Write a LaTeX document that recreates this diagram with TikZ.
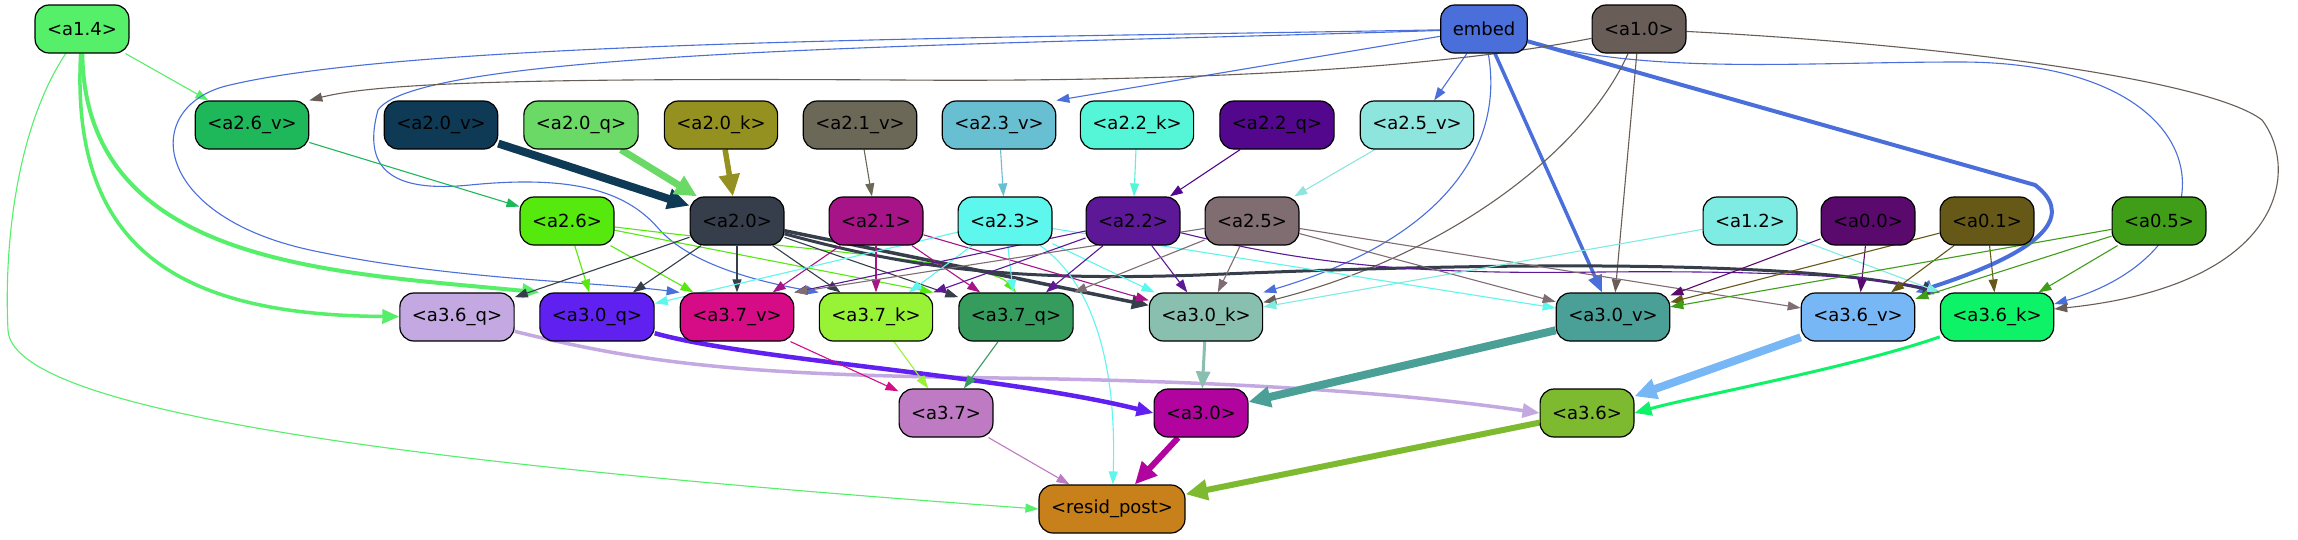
\documentclass[tikz,border=0pt]{standalone}
\usepackage{fontspec}
\setmainfont{DejaVu Sans}
\usetikzlibrary{arrows.meta}
\pgfdeclarelayer{back}
\pgfdeclarelayer{bg}
\pgfsetlayers{back,bg,main}
\definecolor{c14}{HTML}{55EF6A}
\definecolor{cemb}{HTML}{4A6FDB}
\definecolor{c10}{HTML}{685E57}
\definecolor{c26v}{HTML}{1EB85A}
\definecolor{c20v}{HTML}{0E3A55}
\definecolor{c20q}{HTML}{6BD965}
\definecolor{c20k}{HTML}{959121}
\definecolor{c21v}{HTML}{6C6858}
\definecolor{c23v}{HTML}{69BFD2}
\definecolor{c22k}{HTML}{55F5D8}
\definecolor{c22q}{HTML}{52078C}
\definecolor{c25v}{HTML}{8DE5DE}
\definecolor{c26}{HTML}{55E90E}
\definecolor{c20}{HTML}{363E4C}
\definecolor{c21}{HTML}{A61488}
\definecolor{c23}{HTML}{5DF7EE}
\definecolor{c22}{HTML}{5C1896}
\definecolor{c25}{HTML}{7F6D72}
\definecolor{c12}{HTML}{7EECE3}
\definecolor{c00}{HTML}{5A0A6C}
\definecolor{c01}{HTML}{665817}
\definecolor{c05}{HTML}{3F9D17}
\definecolor{c36q}{HTML}{C4A8E2}
\definecolor{c30q}{HTML}{5F20F0}
\definecolor{c37v}{HTML}{D50C86}
\definecolor{c37k}{HTML}{98F235}
\definecolor{c37q}{HTML}{359C5E}
\definecolor{c30k}{HTML}{88BFAE}
\definecolor{c30v}{HTML}{4A9F96}
\definecolor{c36v}{HTML}{77B7F5}
\definecolor{c36k}{HTML}{0DF266}
\definecolor{c37}{HTML}{BF7AC4}
\definecolor{c30}{HTML}{B1049E}
\definecolor{c36}{HTML}{7EBA30}
\definecolor{cres}{HTML}{C8811A}
\tikzset{
  box/.style={draw=black, line width=1.2pt, rounded corners=14pt, minimum height=48pt,
    inner xsep=12pt, inner ysep=0pt, font=\fontsize{18}{21}\selectfont, text=black},
  ed/.style={line width=1.1pt, -{Triangle[length=13pt,width=9pt]}},
  tipmid/.style={-{Triangle[length=17pt,width=14pt]}},
  tipbig/.style={-{Triangle[length=22pt,width=20pt]}}
}
\begin{document}
\begin{tikzpicture}[x=1pt,y=-1pt]
\begin{pgfonlayer}{back}
\fill[white] (0,0) rectangle (2298,539);
\end{pgfonlayer}
\useasboundingbox (0,0) rectangle (2298,539);
% row 1
\node[box, fill=c14] (a14) at (82,29) {<a1.4>};
\node[box, fill=cemb] (emb) at (1484,29) {embed};
\node[box, fill=c10] (a10) at (1639,29) {<a1.0>};
% row 2
\node[box, fill=c26v] (a26v) at (252,125) {<a2.6\_v>};
\node[box, fill=c20v] (a20v) at (441,125) {<a2.0\_v>};
\node[box, fill=c20q] (a20q) at (581,125) {<a2.0\_q>};
\node[box, fill=c20k] (a20k) at (721,125) {<a2.0\_k>};
\node[box, fill=c21v] (a21v) at (860,125) {<a2.1\_v>};
\node[box, fill=c23v] (a23v) at (999,125) {<a2.3\_v>};
\node[box, fill=c22k] (a22k) at (1137,125) {<a2.2\_k>};
\node[box, fill=c22q] (a22q) at (1277,125) {<a2.2\_q>};
\node[box, fill=c25v] (a25v) at (1417,125) {<a2.5\_v>};
% row 3
\node[box, fill=c26] (a26) at (567,221) {<a2.6>};
\node[box, fill=c20] (a20) at (737,221) {<a2.0>};
\node[box, fill=c21] (a21) at (876,221) {<a2.1>};
\node[box, fill=c23] (a23) at (1005,221) {<a2.3>};
\node[box, fill=c22] (a22) at (1133,221) {<a2.2>};
\node[box, fill=c25] (a25) at (1252,221) {<a2.5>};
\node[box, fill=c12] (a12) at (1750,221) {<a1.2>};
\node[box, fill=c00] (a00) at (1868,221) {<a0.0>};
\node[box, fill=c01] (a01) at (1987,221) {<a0.1>};
\node[box, fill=c05] (a05) at (2159,221) {<a0.5>};
% row 4
\node[box, fill=c36q] (a36q) at (457,317) {<a3.6\_q>};
\node[box, fill=c30q] (a30q) at (597,317) {<a3.0\_q>};
\node[box, fill=c37v] (a37v) at (737,317) {<a3.7\_v>};
\node[box, fill=c37k] (a37k) at (876,317) {<a3.7\_k>};
\node[box, fill=c37q] (a37q) at (1016,317) {<a3.7\_q>};
\node[box, fill=c30k] (a30k) at (1206,317) {<a3.0\_k>};
\node[box, fill=c30v] (a30v) at (1613,317) {<a3.0\_v>};
\node[box, fill=c36v] (a36v) at (1858,317) {<a3.6\_v>};
\node[box, fill=c36k] (a36k) at (1997,317) {<a3.6\_k>};
% row 5
\node[box, fill=c37] (a37) at (946,413) {<a3.7>};
\node[box, fill=c30] (a30) at (1201,413) {<a3.0>};
\node[box, fill=c36] (a36) at (1587,413) {<a3.6>};
% row 6
\node[box, fill=cres] (res) at (1112,509) {<resid\_post>};

\begin{pgfonlayer}{bg}
% a1.4
\draw[ed, c14] (a14) -- (a26v);
\draw[ed, c14, line width=3.5pt, tipmid] (a14) .. controls (70,250) and (180,315) .. (a36q);
\draw[ed, c14, line width=4pt, tipmid] (a14) .. controls (85,265) and (330,272) .. (a30q.north west);
\draw[ed, c14] (a14) .. controls (15,130) and (4,250) .. (8,330) .. controls (12,420) and (500,470) .. (res.west);
% embed
\draw[ed, cemb] (emb) -- (a23v.north east);
\draw[ed, cemb] (emb) -- (a25v);
\draw[ed, cemb, line width=3.5pt, tipmid] (emb) -- (a30v);
\draw[ed, cemb, line width=4pt, tipmid] (emb) -- (2035,185) .. controls (2068,210) and (2062,245) .. (a36v.north east);
\draw[ed, cemb] (emb) .. controls (1650,75) and (1800,62) .. (1960,62) .. controls (2230,62) and (2240,250) .. ([yshift=13pt]a36k.east);
\draw[ed, cemb] (emb) .. controls (1505,150) and (1440,240) .. (a30k.north east);
\draw[ed, cemb] (emb) .. controls (1000,38) and (420,40) .. (230,85) .. controls (140,105) and (150,215) .. (310,250) .. controls (450,280) and (600,282) .. (a37v.north west);
\draw[ed, cemb] (emb) .. controls (1000,45) and (420,48) .. (378,110) .. controls (360,175) and (400,192) .. (470,185) .. controls (570,175) and (625,190) .. (658,228) .. controls (690,265) and (760,282) .. (a37k.north west);
% a1.0
\draw[ed, c10] (a10) .. controls (1420,72) and (1150,82) .. (900,80) .. controls (550,78) and (380,82) .. (a26v.north east);
\draw[ed, c10] (a10) .. controls (1585,150) and (1450,255) .. ([yshift=-10pt]a30k.north east);
\draw[ed, c10] (a10) -- (a30v);
\draw[ed, c10] (a10) .. controls (1950,45) and (2210,80) .. (2262,120) .. controls (2300,170) and (2285,285) .. ([yshift=8pt]a36k.east);
% into a2.x
\draw[ed, c20v, line width=8pt, tipbig] (a20v) -- (a20);
\draw[ed, c20q, line width=7pt, tipbig] (a20q) -- (a20);
\draw[ed, c20k, line width=5.5pt, tipbig] (a20k) -- (a20);
\draw[ed, c21v] (a21v) -- (a21);
\draw[ed, c23v] (a23v) -- (a23);
\draw[ed, c22k] (a22k) -- (a22);
\draw[ed, c22q] (a22q) -- (a22);
\draw[ed, c25v] (a25v) -- (a25);
\draw[ed, c26v] (a26v) -- (a26);
% a2.6
\draw[ed, c26] (a26) -- (a30q);
\draw[ed, c26] (a26) -- (a37v);
\draw[ed, c26] (a26) -- (a37k.north east);
\draw[ed, c26] (a26) .. controls (800,250) and (990,262) .. (a37q.north);
% a2.0
\draw[ed, c20] (a20) -- (a36q);
\draw[ed, c20] (a20) -- (a30q);
\draw[ed, c20] (a20) -- (a37v);
\draw[ed, c20] (a20) -- (a37k);
\draw[ed, c20] (a20) -- (a37q);
\draw[ed, c20, line width=3.5pt, tipmid] (a20) -- (a30k);
\draw[ed, c20, line width=3pt, tipmid] (a20) .. controls (900,265) and (1000,282) .. (1200,275) .. controls (1500,262) and (1800,260) .. (a36k.north west);
% a2.1
\draw[ed, c21] (a21) -- (a37v);
\draw[ed, c21] (a21) -- (a37k);
\draw[ed, c21] (a21) -- (a37q);
\draw[ed, c21] (a21) -- (a30k);
% a2.3
\draw[ed, c23] (a23) -- (a30q);
\draw[ed, c23] (a23) -- (a37k);
\draw[ed, c23] (a23) -- (a37q);
\draw[ed, c23] (a23) -- (a30k);
\draw[ed, c23] (a23) -- (a30v);
\draw[ed, c23] (a23) .. controls (1075,270) and (1118,330) .. (res);
% a2.2
\draw[ed, c22] (a22) -- (a37v.north east);
\draw[ed, c22] (a22) -- (a37k.north east);
\draw[ed, c22] (a22) -- (a37q);
\draw[ed, c22] (a22) -- (a30k);
\draw[ed, c22] (a22) .. controls (1300,262) and (1400,275) .. (1600,272) .. controls (1800,270) and (1900,280) .. (a36k.north west);
% a2.5
\draw[ed, c25] (a25) -- (a37v.north east);
\draw[ed, c25] (a25) -- (a37q.north east);
\draw[ed, c25] (a25) -- (a30k);
\draw[ed, c25] (a25) -- (a30v);
\draw[ed, c25] (a25) -- (a36v);
% a1.2, a0.x
\draw[ed, c12] (a12) -- (a30k);
\draw[ed, c12] (a12) -- (a36k.north west);
\draw[ed, c00] (a00) -- (a30v);
\draw[ed, c00] (a00) -- (a36v);
\draw[ed, c01] (a01) -- (a30v);
\draw[ed, c01] (a01) -- (a36v);
\draw[ed, c01] (a01) -- (a36k);
\draw[ed, c05] (a05) -- (a30v);
\draw[ed, c05] (a05) -- (a36v);
\draw[ed, c05] (a05) -- (a36k);
% row 4 -> row 5
\draw[ed, c36q, line width=3.5pt, tipmid] (a36q) .. controls (650,365) and (750,375) .. (1000,378) .. controls (1300,382) and (1450,400) .. (a36.west);
\draw[ed, c30q, line width=4.5pt, tipmid] (a30q) .. controls (750,360) and (1000,375) .. (a30.west);
\draw[ed, c37v] (a37v) -- (a37);
\draw[ed, c37k] (a37k) -- (a37);
\draw[ed, c37q] (a37q) -- (a37);
\draw[ed, c30k, line width=3pt, tipmid] (a30k) -- (a30);
\draw[ed, c30v, line width=8pt, tipbig] (a30v) -- (a30);
\draw[ed, c36v, line width=8pt, tipbig] (a36v) -- (a36);
\draw[ed, c36k, line width=3pt, tipmid] (a36k) .. controls (1850,368) and (1700,395) .. (a36.east);
% row 5 -> resid
\draw[ed, c37] (a37) -- (res);
\draw[ed, c30, line width=6pt, tipbig] (a30) -- (res);
\draw[ed, c36, line width=6pt, tipbig] (a36) -- (res);
\end{pgfonlayer}
\end{tikzpicture}
\end{document}
